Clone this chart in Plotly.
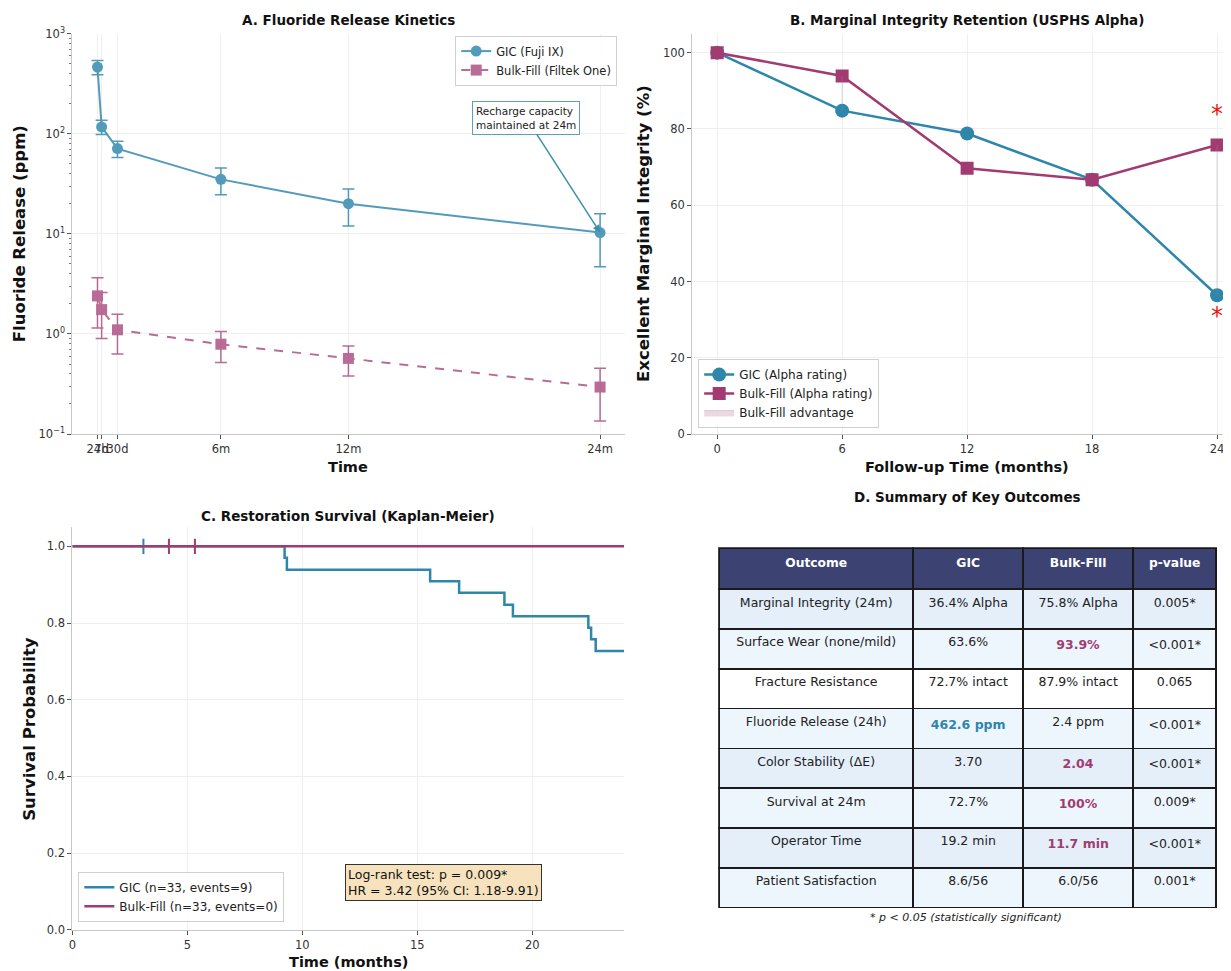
import plotly.graph_objects as go
import math

# ---------------- DATA ----------------
# Panel A: fluoride release
fl_labels = ['24h', '7d', '30d', '6m', '12m', '24m']
fl_days = [1, 7, 30, 180, 365, 730]
gic_fl = [462.6, 117, 71, 35, 20, 10.3]
gic_fl_err = [75, 19, 13, 10.5, 8, 5.6]
bulk_fl = [2.4, 1.75, 1.1, 0.79, 0.57, 0.295]
bulk_fl_err = [1.25, 0.85, 0.47, 0.27, 0.19, 0.16]

# Panel B: marginal integrity (USPHS Alpha %)
months_b = [0, 6, 12, 18, 24]
gic_alpha = [100, 84.8, 78.8, 66.7, 36.4]
bulk_alpha = [100, 93.9, 69.7, 66.7, 75.8]

# Panel C: Kaplan-Meier
gic_km_t = [0, 9.23, 9.33, 15.56, 16.82, 18.79, 19.16, 22.44, 22.56, 22.76, 24]
gic_km_s = [1.0, 0.970, 0.939, 0.909, 0.879, 0.848, 0.818, 0.788, 0.758, 0.727, 0.727]
gic_censor_t = [3.09]
bulk_km_t = [0, 24]
bulk_km_s = [1.0, 1.0]
bulk_censor_t = [4.2, 5.33]

# Panel D: table
tbl_header = ['Outcome', 'GIC', 'Bulk-Fill', 'p-value']
tbl_outcome = ['Marginal Integrity (24m)', 'Surface Wear (none/mild)', 'Fracture Resistance',
               'Fluoride Release (24h)', 'Color Stability (ΔE)', 'Survival at 24m',
               'Operator Time', 'Patient Satisfaction']
tbl_gic = ['36.4% Alpha', '63.6%', '72.7% intact', '462.6 ppm', '3.70', '72.7%', '19.2 min', '8.6/56']
tbl_bulk = ['75.8% Alpha', '93.9%', '87.9% intact', '2.4 ppm', '2.04', '100%', '11.7 min', '6.0/56']
tbl_p = ['0.005*', '<0.001*', '0.065', '<0.001*', '<0.001*', '0.009*', '<0.001*', '0.001*']
gic_better_rows = [3]
bulk_better_rows = [1, 4, 5, 6]

# ---------------- STYLE ----------------
# The page body has an 8px margin, so the figure is drawn 8px smaller and
# all screen positions below are converted accordingly.
OFF = 8
SW, SH = 1231, 971
W, H = SW - OFF, SH - OFF
GIC = '#2E86AB'
BULK = '#A23B72'
FONT = 'DejaVu Sans'
TICKC = '#333333'
VS = 0.9832   # vertical layout stretch
HS = 0.997    # horizontal layout stretch


def sx(x):
    return 1217 + (x - 1217) / HS


def sy(y):
    return 510 + (y - 510) / VS


def px(x):
    return (sx(x) - OFF) / W


def py(y):
    return 1 - (sy(y) - OFF) / H


fig = go.Figure()

# ---- Panel A ----
fig.add_trace(go.Scatter(
    x=fl_days, y=gic_fl, mode='lines+markers', name='GIC (Fuji IX)',
    line=dict(color=GIC, width=2), marker=dict(symbol='circle', size=11, color=GIC),
    error_y=dict(type='data', array=gic_fl_err, color=GIC, thickness=1.5, width=6),
    opacity=0.82, xaxis='x', yaxis='y', legend='legend'))
fig.add_trace(go.Scatter(
    x=fl_days, y=bulk_fl, mode='lines+markers', name='Bulk-Fill (Filtek One)',
    line=dict(color=BULK, width=2, dash='dash'), marker=dict(symbol='square', size=11, color=BULK),
    error_y=dict(type='data', array=bulk_fl_err, color=BULK, thickness=1.5, width=6),
    opacity=0.75, xaxis='x', yaxis='y', legend='legend'))

# ---- Panel B ----
fig.add_trace(go.Scatter(
    x=months_b, y=gic_alpha, mode='lines+markers', name='GIC (Alpha rating)',
    line=dict(color=GIC, width=2.5), marker=dict(symbol='circle', size=14, color=GIC),
    xaxis='x2', yaxis='y2', legend='legend2'))
fig.add_trace(go.Scatter(
    x=months_b, y=bulk_alpha, mode='lines+markers', name='Bulk-Fill (Alpha rating)',
    line=dict(color=BULK, width=2.5), marker=dict(symbol='square', size=13, color=BULK),
    xaxis='x2', yaxis='y2', legend='legend2'))
adv_x, adv_y = [], []
for m, g, b in zip(months_b, gic_alpha, bulk_alpha):
    if b > g:
        adv_x += [m, m, None]
        adv_y += [g, b, None]
fig.add_trace(go.Scatter(
    x=adv_x, y=adv_y, mode='lines', fill='toself', name='Bulk-Fill advantage',
    fillcolor='rgba(162,59,114,0.2)', line=dict(color='rgba(150,150,150,0.35)', width=1),
    xaxis='x2', yaxis='y2', legend='legend2'))

# ---- Panel C ----
fig.add_trace(go.Scatter(
    x=gic_km_t, y=gic_km_s, mode='lines', line_shape='hv', name='GIC (n=33, events=9)',
    line=dict(color=GIC, width=2.5), xaxis='x3', yaxis='y3', legend='legend3'))
fig.add_trace(go.Scatter(
    x=gic_censor_t, y=[1.0] * len(gic_censor_t), mode='markers', showlegend=False,
    marker=dict(symbol='line-ns-open', size=11, color=GIC, line=dict(color=GIC, width=2)),
    xaxis='x3', yaxis='y3'))
fig.add_trace(go.Scatter(
    x=bulk_km_t, y=bulk_km_s, mode='lines', line_shape='hv', name='Bulk-Fill (n=33, events=0)',
    line=dict(color=BULK, width=2.5), xaxis='x3', yaxis='y3', legend='legend3'))
fig.add_trace(go.Scatter(
    x=bulk_censor_t, y=[1.0] * len(bulk_censor_t), mode='markers', showlegend=False,
    marker=dict(symbol='line-ns-open', size=11, color=BULK, line=dict(color=BULK, width=2)),
    xaxis='x3', yaxis='y3'))

# ---- Panel D: table ----
def fmt(vals, rows, color):
    out_v, out_c = [], []
    for i, v in enumerate(vals):
        if i in rows:
            out_v.append('<b>%s</b>' % v)
            out_c.append(color)
        else:
            out_v.append(v)
            out_c.append('#222222')
    return out_v, out_c

gic_v, gic_c = fmt(tbl_gic, gic_better_rows, GIC)
bulk_v, bulk_c = fmt(tbl_bulk, bulk_better_rows, BULK)
row_fill = []
for i in range(len(tbl_outcome)):
    if i == 2:
        row_fill.append('#FFFFFF')
    elif i % 2 == 0:
        row_fill.append('#E4EFFA')
    else:
        row_fill.append('#EEF6FD')
n = len(tbl_outcome)
fig.add_trace(go.Table(
    domain=dict(x=[px(719), px(1217)], y=[py(912), py(548)]),
    columnwidth=[194, 110, 110, 83],
    header=dict(values=['<b>%s</b>' % h for h in tbl_header], fill_color='#3C4372',
                line=dict(color='#1a1a1a', width=1.5), align='center', height=41,
                font=dict(family=FONT, size=12.3, color='white')),
    cells=dict(values=[tbl_outcome, gic_v, bulk_v, tbl_p],
               fill_color=[row_fill] * 4,
               line=dict(color='#1a1a1a', width=1.5), align='center', height=39.8,
               font=dict(family=FONT, size=12.5,
                         color=[['#222222'] * n, gic_c, bulk_c, ['#222222'] * n]))))

# ---------------- AXES ----------------
axis_common = dict(showline=True, linecolor='#c8c8c8', linewidth=1, ticks='outside', ticklen=4,
                   tickcolor='#555555', tickfont=dict(family=FONT, size=11.5, color=TICKC),
                   showgrid=True, gridcolor='#efefef', gridwidth=1, zeroline=False, mirror=False,
                   tickangle=0)

minor_vals = [m * 10 ** d for d in range(-1, 3) for m in range(2, 10)]
fig.update_layout(
    xaxis=dict(domain=[px(72), px(625)], anchor='y', range=[-35.45, 766.45],
               tickmode='array', tickvals=fl_days, ticktext=fl_labels, **axis_common),
    yaxis=dict(domain=[py(434), py(34)], anchor='x', type='log', range=[-1, 3],
               tickmode='array', tickvals=[0.1, 1, 10, 100, 1000],
               ticktext=['10<sup>−1</sup>', '10<sup>0</sup>', '10<sup>1</sup>', '10<sup>2</sup>', '10<sup>3</sup>'],
               minor=dict(tickmode='array', tickvals=minor_vals, ticks='outside', ticklen=2,
                          tickcolor='#777777', showgrid=False),
               **axis_common),
    xaxis2=dict(domain=[px(692), 1.0], anchor='y2', range=[-1.2, 24.67],
                tickmode='array', tickvals=[0, 6, 12, 18, 24], **axis_common),
    yaxis2=dict(domain=[py(434), py(34)], anchor='x2', range=[0, 105],
                tickmode='array', tickvals=[0, 20, 40, 60, 80, 100], **axis_common),
    xaxis3=dict(domain=[px(72), px(624)], anchor='y3', range=[0, 24],
                tickmode='array', tickvals=[0, 5, 10, 15, 20], **axis_common),
    yaxis3=dict(domain=[py(929), py(527)], anchor='x3', range=[0, 1.05],
                tickmode='array', tickvals=[0, 0.2, 0.4, 0.6, 0.8, 1.0],
                ticktext=['0.0', '0.2', '0.4', '0.6', '0.8', '1.0'], **axis_common),
)

legend_common = dict(bgcolor='rgba(255,255,255,0.85)', bordercolor='#d0d0d0', borderwidth=1,
                     font=dict(family=FONT, size=11.5, color='#222222'), tracegroupgap=0)
fig.update_layout(
    legend=dict(x=px(617), y=py(36), xanchor='right', yanchor='top', **legend_common),
    legend2=dict(x=px(698), y=py(428), xanchor='left', yanchor='bottom',
                 **{**legend_common, 'font': dict(family=FONT, size=12, color='#222222')}),
    legend3=dict(x=px(78), y=py(921), xanchor='left', yanchor='bottom',
                 **{**legend_common, 'font': dict(family=FONT, size=12, color='#222222')}),
)

# ---------------- TEXT ----------------
ann = []


def text(x, y, s, size, bold=False, angle=0, color='#111111', italic=False, xanchor='center'):
    t = '<b>%s</b>' % s if bold else s
    if italic:
        t = '<i>%s</i>' % t
    ann.append(dict(x=px(x), y=py(y), xref='paper', yref='paper', text=t, showarrow=False,
                    textangle=angle, xanchor=xanchor, yanchor='middle',
                    font=dict(family=FONT, size=size, color=color)))


text(348, 20, 'A. Fluoride Release Kinetics', 13.5, bold=True)
text(967, 20, 'B. Marginal Integrity Retention (USPHS Alpha)', 13.5, bold=True)
text(348, 516, 'C. Restoration Survival (Kaplan-Meier)', 13.5, bold=True)
text(967, 497, 'D. Summary of Key Outcomes', 13.5, bold=True)
text(348, 467, 'Time', 14.5, bold=True)
text(967, 467, 'Follow-up Time (months)', 14.5, bold=True)
text(348, 961, 'Time (months)', 14.5, bold=True)
text(19, 234, 'Fluoride Release (ppm)', 16.5, bold=True, angle=-90)
text(644, 234, 'Excellent Marginal Integrity (%)', 16.5, bold=True, angle=-90)
text(29, 728, 'Survival Probability', 16.5, bold=True, angle=-90)
text(966, 917, '* p < 0.05 (statistically significant)', 11, italic=True, color='#222222')

# significance asterisks (panel B)
ann.append(dict(x=24, y=84, xref='x2', yref='y2', text='*', showarrow=False,
                yanchor='middle', font=dict(family=FONT, size=24, color='#E8180F')))
ann.append(dict(x=24, y=31, xref='x2', yref='y2', text='*', showarrow=False,
                yanchor='middle', font=dict(family=FONT, size=24, color='#E8180F')))

# recharge annotation (panel A)
ann.append(dict(x=fl_days[-1], y=math.log10(gic_fl[-1]), xref='x', yref='y',
                text='Recharge capacity<br>maintained at 24m', showarrow=True,
                ax=-74, ay=-115, arrowhead=2, arrowsize=1, arrowwidth=1.5, arrowcolor='#3c8fb0',
                align='left', bgcolor='white', bordercolor='#5aa0bb', borderwidth=1, borderpad=3,
                font=dict(family=FONT, size=10.5, color='#222222')))

# log-rank annotation (panel C)
ann.append(dict(x=px(345), y=py(882), xref='paper', yref='paper', xanchor='left', yanchor='middle',
                text='Log-rank test: p = 0.009*<br>HR = 3.42 (95% CI: 1.18-9.91)', showarrow=False,
                align='left', bgcolor='rgba(245,222,179,0.85)', bordercolor='#333333', borderwidth=1,
                borderpad=2, font=dict(family=FONT, size=12.5, color='#111111')))

fig.update_layout(annotations=ann, width=W, height=H, margin=dict(l=0, r=0, t=0, b=0),
                  paper_bgcolor='white', plot_bgcolor='white',
                  font=dict(family=FONT, color='#222222'))

fig.write_html('out.html')
